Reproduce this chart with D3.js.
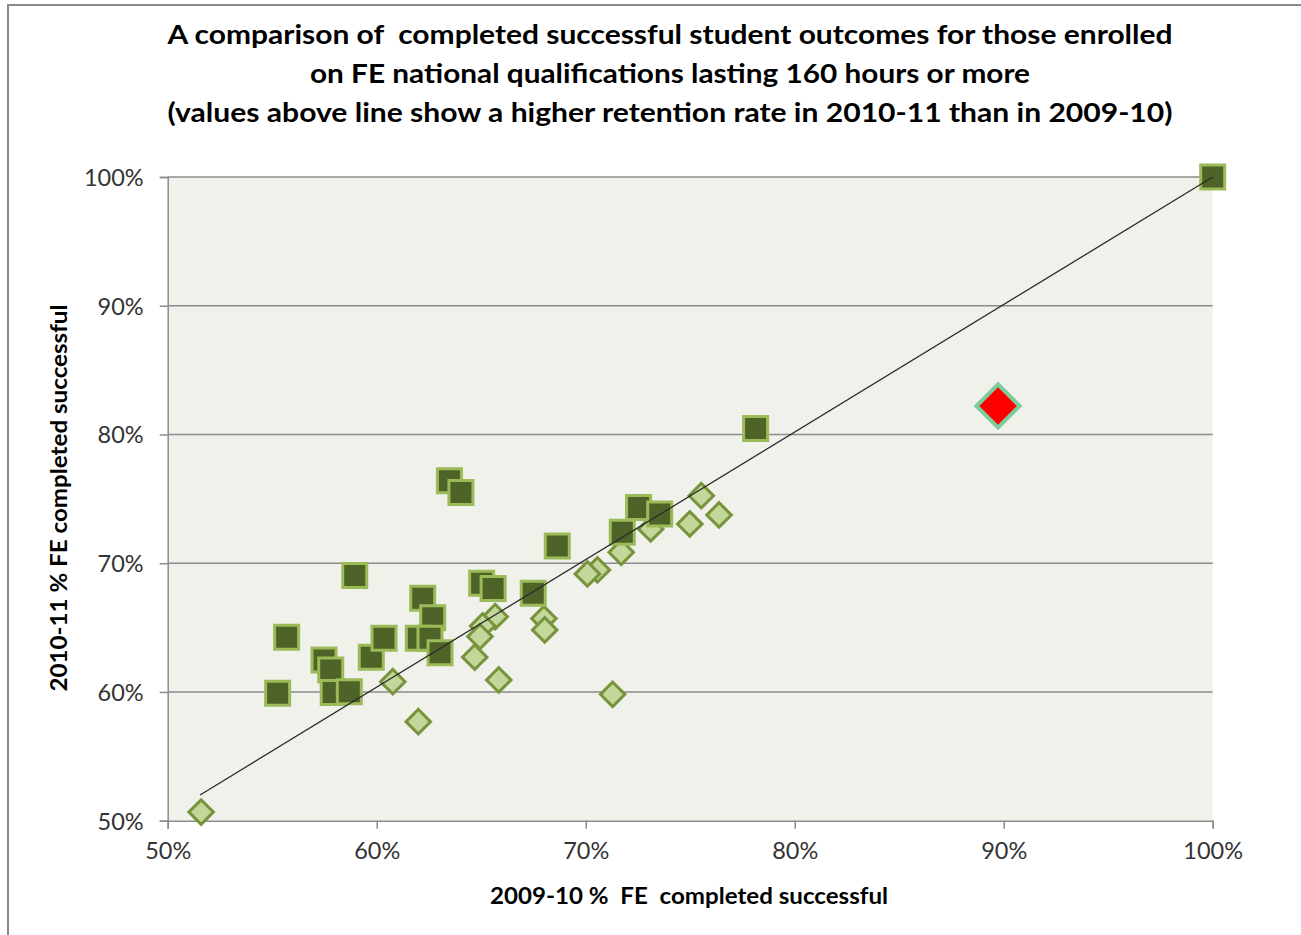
<!DOCTYPE html>
<html>
<head>
<meta charset="utf-8">
<script src="https://cdn.jsdelivr.net/npm/d3@7"></script>
<style>
  html, body { margin: 0; padding: 0; background: #fff; }
  svg { display: block; font-family: Lato, "Open Sans", sans-serif; }
  text { white-space: pre; }
</style>
</head>
<body>
<svg id="chart" width="1301" height="935"></svg>
<script>
// Colleges whose completed-successful rate rose in 2010-11 (above the line)
const higherX = [100, 78.13, 63.48, 64.03, 68.64, 72.53, 73.54, 71.75, 65.02, 65.57, 67.49,
                 62.2, 62.68, 61.99, 62.55, 63.03, 58.95, 55.69, 55.26, 57.48, 57.8, 57.92,
                 58.69, 59.74, 60.35];
const higherY = [100, 80.46, 76.4, 75.5, 71.34, 74.32, 73.83, 72.41, 68.45, 68.03, 67.67,
                 67.28, 65.77, 64.17, 64.17, 63.05, 69.04, 64.25, 59.9, 62.49, 61.71, 59.95,
                 60.02, 62.7, 64.17];

// Colleges whose rate fell (below the line)
const lowerX = [51.6, 75.53, 76.38, 74.98, 73.11, 71.7, 70.56, 70.08, 68.0, 68.04, 65.67,
                65.07, 64.94, 64.69, 65.84, 71.29, 60.77, 61.99];
const lowerY = [50.67, 75.25, 73.75, 73.05, 72.66, 70.85, 69.48, 69.17, 65.7, 64.82, 65.85,
                65.13, 64.3, 62.7, 60.93, 59.82, 60.8, 57.69];

// Highlighted college
const highlightX = [89.73];
const highlightY = [82.22];

// Reference line (equal rates in both years)
const refLineX = [51.55, 100];
const refLineY = [52.0, 100];

const tickValues = [50, 60, 70, 80, 90, 100];
const titleLines = [
  "A comparison of  completed successful student outcomes for those enrolled",
  "on FE national qualifications lasting 160 hours or more",
  "(values above line show a higher retention rate in 2010-11 than in 2009-10)"
];
const xTitle = "2009-10 %  FE  completed successful";
const yTitle = "2010-11 % FE completed successful";

const svg = d3.select("#chart");

const x = d3.scaleLinear().domain([50, 100]).range([167.7, 1212.7]);
const y = d3.scaleLinear().domain([50, 100]).range([820.7, 177]);

// chart frame
svg.append("rect")
  .attr("x", 8).attr("y", 5).attr("width", 1310).attr("height", 950)
  .attr("fill", "#fff").attr("stroke", "#8a8a8a").attr("stroke-width", 2);

// plot area
svg.append("rect")
  .attr("x", x(50)).attr("y", y(100))
  .attr("width", x(100) - x(50)).attr("height", y(50) - y(100))
  .attr("fill", "#eff1ea");

// horizontal gridlines
svg.append("g")
  .selectAll("line")
  .data(tickValues.filter(v => v > 50))
  .join("line")
  .attr("x1", x(50)).attr("x2", x(100))
  .attr("y1", d => y(d)).attr("y2", d => y(d))
  .attr("stroke", "#8c8c8c").attr("stroke-width", 1.5);

const fmt = d => d + "%";

const yAxis = svg.append("g")
  .attr("transform", `translate(${x(50)},0)`)
  .call(d3.axisLeft(y).tickValues(tickValues).tickFormat(fmt).tickSize(8).tickPadding(16));

const xAxis = svg.append("g")
  .attr("transform", `translate(0,${y(50)})`)
  .call(d3.axisBottom(x).tickValues(tickValues).tickFormat(fmt).tickSize(8).tickPadding(14));

[yAxis, xAxis].forEach(g => {
  g.select(".domain").attr("stroke", "#8c8c8c").attr("stroke-width", 1.5);
  g.selectAll(".tick line").attr("stroke", "#8c8c8c").attr("stroke-width", 1.5);
  g.selectAll(".tick text")
    .attr("fill", "#333")
    .style("font-size", "23.5px")
    .style("font-family", "Lato, sans-serif");
});
yAxis.selectAll(".tick text").attr("dy", "0.36em");

// markers: falling rates (light diamonds)
const lowerData = lowerX.map((v, i) => ({ x: v, y: lowerY[i] }));
const higherData = higherX.map((v, i) => ({ x: v, y: higherY[i] }));
const highlightData = highlightX.map((v, i) => ({ x: v, y: highlightY[i] }));

const diamond = d3.symbol().type(d3.symbolSquare).size(300);
svg.append("g")
  .selectAll("path")
  .data(lowerData)
  .join("path")
  .attr("d", diamond)
  .attr("transform", d => `translate(${x(d.x)},${y(d.y)}) rotate(45)`)
  .attr("fill", "#c4d79b")
  .attr("stroke", "#77933c")
  .attr("stroke-width", 3);

// markers: rising rates (dark squares)
const square = d3.symbol().type(d3.symbolSquare).size(576);
svg.append("g")
  .selectAll("path")
  .data(higherData)
  .join("path")
  .attr("d", square)
  .attr("transform", d => `translate(${x(d.x)},${y(d.y)})`)
  .attr("fill", "#4f6228")
  .attr("stroke", "#9bbb59")
  .attr("stroke-width", 3);

// highlighted college
const bigDiamond = d3.symbol().type(d3.symbolSquare).size(930);
svg.append("g")
  .selectAll("path")
  .data(highlightData)
  .join("path")
  .attr("d", bigDiamond)
  .attr("transform", d => `translate(${x(d.x)},${y(d.y)}) rotate(45)`)
  .attr("fill", "#ff0000")
  .attr("stroke", "#7ccd9c")
  .attr("stroke-width", 4);

// equal-rate line
svg.append("path")
  .datum(refLineX.map((v, i) => [v, refLineY[i]]))
  .attr("d", d3.line().x(d => x(d[0])).y(d => y(d[1])))
  .attr("fill", "none")
  .attr("stroke", "#2b2b2b")
  .attr("stroke-width", 1.3);

// title
const titleWidths = [1005, 720, 1005];
svg.append("g")
  .selectAll("text")
  .data(titleLines)
  .join("text")
  .attr("x", 670)
  .attr("y", (d, i) => 44 + i * 39)
  .attr("text-anchor", "middle")
  .attr("textLength", (d, i) => titleWidths[i])
  .attr("lengthAdjust", "spacingAndGlyphs")
  .style("font-size", "26px")
  .style("font-weight", "bold")
  .attr("fill", "#000")
  .text(d => d);

// axis titles
svg.append("text")
  .attr("x", 689).attr("y", 904)
  .attr("text-anchor", "middle")
  .attr("textLength", 398)
  .attr("lengthAdjust", "spacingAndGlyphs")
  .style("font-size", "22px").style("font-weight", "bold")
  .attr("fill", "#000")
  .text(xTitle);

svg.append("text")
  .attr("transform", "translate(67,498) rotate(-90)")
  .attr("text-anchor", "middle")
  .attr("textLength", 387)
  .attr("lengthAdjust", "spacingAndGlyphs")
  .style("font-size", "22px").style("font-weight", "bold")
  .attr("fill", "#000")
  .text(yTitle);
</script>
</body>
</html>
